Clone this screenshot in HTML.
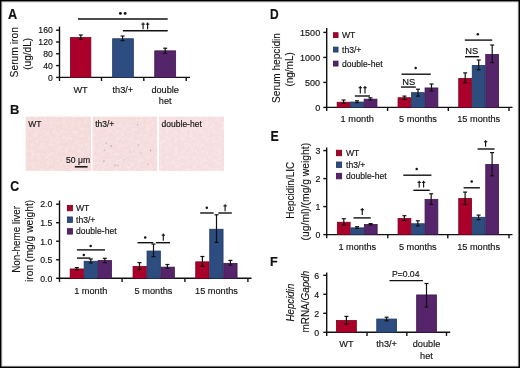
<!DOCTYPE html>
<html><head><meta charset="utf-8"><style>
html,body{margin:0;padding:0;width:520px;height:368px;overflow:hidden;background:#fff}
body{position:relative}
svg{display:block;position:absolute;left:0;top:0}
#main{filter:blur(0.3px)}
text{font-family:"Liberation Sans", sans-serif;stroke:#111;stroke-width:0.15px;paint-order:stroke}
</style></head><body>
<svg id="main" width="520" height="368" viewBox="0 0 520 368">
<rect width="520" height="368" fill="#fff"/>
<text transform="translate(8.10,18.80) scale(0.98,1.07)" font-size="13" font-weight="bold" fill="#111">A</text>
<line x1="59.50" y1="26.60" x2="59.50" y2="78.10" stroke="#111" stroke-width="1.4"/>
<line x1="56.10" y1="77.40" x2="59.50" y2="77.40" stroke="#111" stroke-width="1.4"/>
<text x="52.75" y="80.69" font-size="8.65" text-anchor="end" fill="#111">0</text>
<line x1="56.10" y1="65.60" x2="59.50" y2="65.60" stroke="#111" stroke-width="1.4"/>
<text x="52.75" y="68.89" font-size="8.65" text-anchor="end" fill="#111">40</text>
<line x1="56.10" y1="53.80" x2="59.50" y2="53.80" stroke="#111" stroke-width="1.4"/>
<text x="52.75" y="57.09" font-size="8.65" text-anchor="end" fill="#111">80</text>
<line x1="56.10" y1="42.00" x2="59.50" y2="42.00" stroke="#111" stroke-width="1.4"/>
<text x="52.75" y="45.29" font-size="8.65" text-anchor="end" fill="#111">120</text>
<line x1="56.10" y1="30.20" x2="59.50" y2="30.20" stroke="#111" stroke-width="1.4"/>
<text x="52.75" y="33.49" font-size="8.65" text-anchor="end" fill="#111">160</text>
<line x1="58.80" y1="77.40" x2="190.00" y2="77.40" stroke="#111" stroke-width="1.4"/>
<line x1="59.50" y1="77.40" x2="59.50" y2="81.00" stroke="#111" stroke-width="1.4"/>
<line x1="101.50" y1="77.40" x2="101.50" y2="81.00" stroke="#111" stroke-width="1.4"/>
<line x1="143.80" y1="77.40" x2="143.80" y2="81.00" stroke="#111" stroke-width="1.4"/>
<line x1="186.20" y1="77.40" x2="186.20" y2="81.00" stroke="#111" stroke-width="1.4"/>
<rect x="70.45" y="37.55" width="20.40" height="39.85" fill="#AB0029" stroke="#78001E" stroke-width="0.8"/>
<rect x="112.65" y="38.75" width="20.70" height="38.65" fill="#2D4C80" stroke="#1F3760" stroke-width="0.8"/>
<rect x="154.75" y="50.85" width="20.90" height="26.55" fill="#56246A" stroke="#3C1749" stroke-width="0.8"/>
<line x1="80.80" y1="35.00" x2="80.80" y2="39.40" stroke="#111" stroke-width="1.2"/>
<line x1="78.80" y1="35.00" x2="82.80" y2="35.00" stroke="#111" stroke-width="1.2"/>
<line x1="78.80" y1="39.40" x2="82.80" y2="39.40" stroke="#111" stroke-width="1.2"/>
<line x1="122.60" y1="36.00" x2="122.60" y2="40.60" stroke="#111" stroke-width="1.2"/>
<line x1="120.60" y1="36.00" x2="124.60" y2="36.00" stroke="#111" stroke-width="1.2"/>
<line x1="120.60" y1="40.60" x2="124.60" y2="40.60" stroke="#111" stroke-width="1.2"/>
<line x1="165.20" y1="48.20" x2="165.20" y2="53.30" stroke="#111" stroke-width="1.2"/>
<line x1="163.20" y1="48.20" x2="167.20" y2="48.20" stroke="#111" stroke-width="1.2"/>
<line x1="163.20" y1="53.30" x2="167.20" y2="53.30" stroke="#111" stroke-width="1.2"/>
<line x1="78.00" y1="19.00" x2="167.70" y2="19.00" stroke="#111" stroke-width="1.4"/>
<circle cx="120.40" cy="13.40" r="1.45" fill="#111"/>
<circle cx="125.10" cy="13.40" r="1.45" fill="#111"/>
<line x1="122.90" y1="30.80" x2="167.70" y2="30.80" stroke="#111" stroke-width="1.4"/>
<line x1="143.10" y1="22.50" x2="143.10" y2="29.30" stroke="#111" stroke-width="1.15"/>
<line x1="141.40" y1="24.13" x2="144.80" y2="24.13" stroke="#111" stroke-width="1.1"/>
<line x1="147.60" y1="22.50" x2="147.60" y2="29.30" stroke="#111" stroke-width="1.15"/>
<line x1="145.90" y1="24.13" x2="149.30" y2="24.13" stroke="#111" stroke-width="1.1"/>
<text x="80.60" y="93.00" font-size="9.2" text-anchor="middle" fill="#111">WT</text>
<text x="122.90" y="93.00" font-size="9.2" text-anchor="middle" fill="#111">th3/+</text>
<text x="165.20" y="93.00" font-size="9.2" text-anchor="middle" fill="#111">double</text>
<text x="165.20" y="103.70" font-size="9.2" text-anchor="middle" fill="#111">het</text>
<text transform="translate(17.80,77.40) rotate(-90) scale(1,1.13)" font-size="10.3" fill="#111" style="stroke-width:0.1px">Serum iron</text>
<text transform="translate(30.80,69.80) rotate(-90) scale(1,1.13)" font-size="10.1" fill="#111" style="stroke-width:0.1px">(ug/dL)</text>
<text transform="translate(10.00,113.70) scale(1.0,1.03)" font-size="13" font-weight="bold" fill="#111">B</text>
<defs>
<filter id="tx3" x="0" y="0" width="100%" height="100%"><feTurbulence type="fractalNoise" baseFrequency="0.32" numOctaves="3" seed="3"/><feColorMatrix type="matrix" values="0 0 0 0 1  0 0 0 0 0.97  0 0 0 0 0.97  0 0 0 -2.2 1.35"/></filter>
<filter id="tx11" x="0" y="0" width="100%" height="100%"><feTurbulence type="fractalNoise" baseFrequency="0.32" numOctaves="3" seed="11"/><feColorMatrix type="matrix" values="0 0 0 0 1  0 0 0 0 0.97  0 0 0 0 0.97  0 0 0 -2.2 1.35"/></filter>
<filter id="tx23" x="0" y="0" width="100%" height="100%"><feTurbulence type="fractalNoise" baseFrequency="0.32" numOctaves="3" seed="23"/><feColorMatrix type="matrix" values="0 0 0 0 1  0 0 0 0 0.97  0 0 0 0 0.97  0 0 0 -2.2 1.35"/></filter>
</defs>
<rect x="25.70" y="116.60" width="65.30" height="54.30" fill="#F4DAD9"/>
<rect x="25.70" y="116.6" width="65.30" height="54.3" filter="url(#tx3)" opacity="0.35"/>
<text x="28.30" y="126.50" font-size="8.5" fill="#111">WT</text>
<rect x="92.60" y="116.60" width="64.40" height="54.30" fill="#F5DBDC"/>
<rect x="92.60" y="116.6" width="64.40" height="54.3" filter="url(#tx11)" opacity="0.35"/>
<text x="95.20" y="126.50" font-size="8.5" fill="#111">th3/+</text>
<rect x="159.00" y="116.60" width="65.00" height="54.30" fill="#F6DDE1"/>
<rect x="159.00" y="116.6" width="65.00" height="54.3" filter="url(#tx23)" opacity="0.35"/>
<text x="161.60" y="126.50" font-size="8.5" fill="#111">double-het</text>
<ellipse cx="111.2" cy="146.0" rx="0.6400000000000001" ry="1.04" fill="#6a6a80" opacity="0.45"/>
<ellipse cx="106.3" cy="143.5" rx="0.48" ry="0.78" fill="#6a6a80" opacity="0.45"/>
<ellipse cx="104.4" cy="150.5" rx="0.48" ry="0.78" fill="#6a6a80" opacity="0.45"/>
<ellipse cx="103.9" cy="161.3" rx="0.6400000000000001" ry="1.04" fill="#6a6a80" opacity="0.45"/>
<ellipse cx="115.2" cy="165.2" rx="0.5599999999999999" ry="0.9099999999999999" fill="#6a6a80" opacity="0.45"/>
<ellipse cx="118.0" cy="165.6" rx="0.48" ry="0.78" fill="#6a6a80" opacity="0.45"/>
<ellipse cx="137.9" cy="124.8" rx="0.5599999999999999" ry="0.9099999999999999" fill="#6a6a80" opacity="0.45"/>
<ellipse cx="138.3" cy="145.1" rx="0.48" ry="0.78" fill="#6a6a80" opacity="0.45"/>
<ellipse cx="141.1" cy="153.0" rx="0.48" ry="0.78" fill="#6a6a80" opacity="0.45"/>
<ellipse cx="150.6" cy="150.6" rx="0.6400000000000001" ry="1.04" fill="#6a6a80" opacity="0.45"/>
<ellipse cx="147.8" cy="164.2" rx="0.48" ry="0.78" fill="#6a6a80" opacity="0.45"/>
<ellipse cx="130.0" cy="152.0" rx="0.4" ry="0.65" fill="#6a6a80" opacity="0.45"/>
<ellipse cx="124.0" cy="160.0" rx="0.4" ry="0.65" fill="#6a6a80" opacity="0.45"/>
<text x="66.00" y="163.20" font-size="8.6" fill="#111">50 μm</text>
<line x1="74.80" y1="166.80" x2="87.60" y2="166.80" stroke="#111" stroke-width="1.5"/>
<text transform="translate(10.30,190.60) scale(0.95,1.12)" font-size="13" font-weight="bold" fill="#111">C</text>
<line x1="59.50" y1="200.50" x2="59.50" y2="279.00" stroke="#111" stroke-width="1.4"/>
<line x1="56.10" y1="278.30" x2="59.50" y2="278.30" stroke="#111" stroke-width="1.4"/>
<text x="52.25" y="281.61" font-size="8.7" text-anchor="end" fill="#111">0.0</text>
<line x1="56.10" y1="259.77" x2="59.50" y2="259.77" stroke="#111" stroke-width="1.4"/>
<text x="52.25" y="263.08" font-size="8.7" text-anchor="end" fill="#111">0.5</text>
<line x1="56.10" y1="241.24" x2="59.50" y2="241.24" stroke="#111" stroke-width="1.4"/>
<text x="52.25" y="244.55" font-size="8.7" text-anchor="end" fill="#111">1.0</text>
<line x1="56.10" y1="222.71" x2="59.50" y2="222.71" stroke="#111" stroke-width="1.4"/>
<text x="52.25" y="226.02" font-size="8.7" text-anchor="end" fill="#111">1.5</text>
<line x1="56.10" y1="204.18" x2="59.50" y2="204.18" stroke="#111" stroke-width="1.4"/>
<text x="52.25" y="207.49" font-size="8.7" text-anchor="end" fill="#111">2.0</text>
<line x1="58.80" y1="278.30" x2="251.50" y2="278.30" stroke="#111" stroke-width="1.4"/>
<line x1="59.50" y1="278.30" x2="59.50" y2="281.90" stroke="#111" stroke-width="1.4"/>
<line x1="122.10" y1="278.30" x2="122.10" y2="281.90" stroke="#111" stroke-width="1.4"/>
<line x1="184.90" y1="278.30" x2="184.90" y2="281.90" stroke="#111" stroke-width="1.4"/>
<line x1="247.90" y1="278.30" x2="247.90" y2="281.90" stroke="#111" stroke-width="1.4"/>
<rect x="67.35" y="205.35" width="5.10" height="5.45" fill="#AB0029" stroke="#78001E" stroke-width="0.8"/>
<text x="76.00" y="211.00" font-size="8.6" fill="#111">WT</text>
<rect x="67.35" y="216.95" width="5.10" height="5.45" fill="#2D4C80" stroke="#1F3760" stroke-width="0.8"/>
<text x="76.00" y="222.60" font-size="8.6" fill="#111">th3/+</text>
<rect x="67.35" y="228.65" width="5.10" height="5.45" fill="#56246A" stroke="#3C1749" stroke-width="0.8"/>
<text x="76.00" y="234.30" font-size="8.6" fill="#111">double-het</text>
<rect x="70.15" y="268.95" width="13.30" height="9.35" fill="#AB0029" stroke="#78001E" stroke-width="0.8"/>
<rect x="84.15" y="261.25" width="13.30" height="17.05" fill="#2D4C80" stroke="#1F3760" stroke-width="0.8"/>
<rect x="98.15" y="260.55" width="13.30" height="17.75" fill="#56246A" stroke="#3C1749" stroke-width="0.8"/>
<line x1="76.80" y1="267.60" x2="76.80" y2="269.80" stroke="#111" stroke-width="1.2"/>
<line x1="74.80" y1="267.60" x2="78.80" y2="267.60" stroke="#111" stroke-width="1.2"/>
<line x1="74.80" y1="269.80" x2="78.80" y2="269.80" stroke="#111" stroke-width="1.2"/>
<line x1="90.80" y1="259.00" x2="90.80" y2="263.00" stroke="#111" stroke-width="1.2"/>
<line x1="88.80" y1="259.00" x2="92.80" y2="259.00" stroke="#111" stroke-width="1.2"/>
<line x1="88.80" y1="263.00" x2="92.80" y2="263.00" stroke="#111" stroke-width="1.2"/>
<line x1="104.80" y1="258.30" x2="104.80" y2="262.60" stroke="#111" stroke-width="1.2"/>
<line x1="102.80" y1="258.30" x2="106.80" y2="258.30" stroke="#111" stroke-width="1.2"/>
<line x1="102.80" y1="262.60" x2="106.80" y2="262.60" stroke="#111" stroke-width="1.2"/>
<rect x="133.05" y="266.35" width="13.30" height="11.95" fill="#AB0029" stroke="#78001E" stroke-width="0.8"/>
<rect x="147.05" y="251.05" width="13.30" height="27.25" fill="#2D4C80" stroke="#1F3760" stroke-width="0.8"/>
<rect x="161.05" y="267.15" width="13.30" height="11.15" fill="#56246A" stroke="#3C1749" stroke-width="0.8"/>
<line x1="139.50" y1="262.60" x2="139.50" y2="269.50" stroke="#111" stroke-width="1.2"/>
<line x1="137.50" y1="262.60" x2="141.50" y2="262.60" stroke="#111" stroke-width="1.2"/>
<line x1="137.50" y1="269.50" x2="141.50" y2="269.50" stroke="#111" stroke-width="1.2"/>
<line x1="153.50" y1="244.10" x2="153.50" y2="256.60" stroke="#111" stroke-width="1.2"/>
<line x1="151.50" y1="244.10" x2="155.50" y2="244.10" stroke="#111" stroke-width="1.2"/>
<line x1="151.50" y1="256.60" x2="155.50" y2="256.60" stroke="#111" stroke-width="1.2"/>
<line x1="167.40" y1="264.50" x2="167.40" y2="268.30" stroke="#111" stroke-width="1.2"/>
<line x1="165.40" y1="264.50" x2="169.40" y2="264.50" stroke="#111" stroke-width="1.2"/>
<line x1="165.40" y1="268.30" x2="169.40" y2="268.30" stroke="#111" stroke-width="1.2"/>
<rect x="195.75" y="261.85" width="13.30" height="16.45" fill="#AB0029" stroke="#78001E" stroke-width="0.8"/>
<rect x="209.75" y="229.25" width="13.30" height="49.05" fill="#2D4C80" stroke="#1F3760" stroke-width="0.8"/>
<rect x="223.75" y="263.35" width="13.30" height="14.95" fill="#56246A" stroke="#3C1749" stroke-width="0.8"/>
<line x1="202.40" y1="256.50" x2="202.40" y2="266.30" stroke="#111" stroke-width="1.2"/>
<line x1="200.40" y1="256.50" x2="204.40" y2="256.50" stroke="#111" stroke-width="1.2"/>
<line x1="200.40" y1="266.30" x2="204.40" y2="266.30" stroke="#111" stroke-width="1.2"/>
<line x1="216.50" y1="214.80" x2="216.50" y2="242.40" stroke="#111" stroke-width="1.2"/>
<line x1="214.50" y1="214.80" x2="218.50" y2="214.80" stroke="#111" stroke-width="1.2"/>
<line x1="214.50" y1="242.40" x2="218.50" y2="242.40" stroke="#111" stroke-width="1.2"/>
<line x1="230.40" y1="260.40" x2="230.40" y2="265.20" stroke="#111" stroke-width="1.2"/>
<line x1="228.40" y1="260.40" x2="232.40" y2="260.40" stroke="#111" stroke-width="1.2"/>
<line x1="228.40" y1="265.20" x2="232.40" y2="265.20" stroke="#111" stroke-width="1.2"/>
<line x1="76.90" y1="249.90" x2="105.00" y2="249.90" stroke="#111" stroke-width="1.4"/>
<circle cx="90.70" cy="246.00" r="1.25" fill="#111"/>
<line x1="77.00" y1="258.10" x2="90.30" y2="258.10" stroke="#111" stroke-width="1.4"/>
<circle cx="83.80" cy="254.90" r="1.25" fill="#111"/>
<line x1="137.50" y1="242.70" x2="153.30" y2="242.70" stroke="#111" stroke-width="1.4"/>
<circle cx="145.20" cy="237.50" r="1.25" fill="#111"/>
<line x1="155.90" y1="242.70" x2="170.00" y2="242.70" stroke="#111" stroke-width="1.4"/>
<line x1="163.30" y1="233.40" x2="163.30" y2="240.70" stroke="#111" stroke-width="1.15"/>
<line x1="161.60" y1="235.15" x2="165.00" y2="235.15" stroke="#111" stroke-width="1.1"/>
<line x1="200.20" y1="213.00" x2="213.70" y2="213.00" stroke="#111" stroke-width="1.4"/>
<circle cx="206.80" cy="207.70" r="1.25" fill="#111"/>
<line x1="218.30" y1="213.00" x2="231.80" y2="213.00" stroke="#111" stroke-width="1.4"/>
<line x1="225.10" y1="204.20" x2="225.10" y2="211.20" stroke="#111" stroke-width="1.15"/>
<line x1="223.40" y1="205.88" x2="226.80" y2="205.88" stroke="#111" stroke-width="1.1"/>
<text x="90.80" y="293.70" font-size="9.2" text-anchor="middle" fill="#111">1 month</text>
<text x="153.50" y="293.70" font-size="9.2" text-anchor="middle" fill="#111">5 months</text>
<text x="216.50" y="293.70" font-size="9.2" text-anchor="middle" fill="#111">15 months</text>
<text transform="translate(19.80,272.80) rotate(-90) scale(1,1.13)" font-size="9.87" fill="#111" style="stroke-width:0.1px">Non-heme liver</text>
<text transform="translate(33.00,282.00) rotate(-90) scale(1,1.13)" font-size="10.3" fill="#111" style="stroke-width:0.1px">iron (mg/g weight)</text>
<text transform="translate(270.00,18.90) scale(0.92,1.075)" font-size="13" font-weight="bold" fill="#111">D</text>
<line x1="326.70" y1="28.00" x2="326.70" y2="108.10" stroke="#111" stroke-width="1.4"/>
<line x1="323.30" y1="107.40" x2="326.70" y2="107.40" stroke="#111" stroke-width="1.4"/>
<text x="320.15" y="110.82" font-size="9.0" text-anchor="end" fill="#111">0</text>
<line x1="323.30" y1="82.40" x2="326.70" y2="82.40" stroke="#111" stroke-width="1.4"/>
<text x="320.15" y="85.82" font-size="9.0" text-anchor="end" fill="#111">500</text>
<line x1="323.30" y1="57.40" x2="326.70" y2="57.40" stroke="#111" stroke-width="1.4"/>
<text x="320.15" y="60.82" font-size="9.0" text-anchor="end" fill="#111">1000</text>
<line x1="323.30" y1="32.40" x2="326.70" y2="32.40" stroke="#111" stroke-width="1.4"/>
<text x="320.15" y="35.82" font-size="9.0" text-anchor="end" fill="#111">1500</text>
<line x1="326.00" y1="107.40" x2="512.50" y2="107.40" stroke="#111" stroke-width="1.4"/>
<line x1="326.70" y1="107.40" x2="326.70" y2="111.00" stroke="#111" stroke-width="1.4"/>
<line x1="387.60" y1="107.40" x2="387.60" y2="111.00" stroke="#111" stroke-width="1.4"/>
<line x1="448.30" y1="107.40" x2="448.30" y2="111.00" stroke="#111" stroke-width="1.4"/>
<line x1="509.00" y1="107.40" x2="509.00" y2="111.00" stroke="#111" stroke-width="1.4"/>
<rect x="333.45" y="32.70" width="4.60" height="4.95" fill="#AB0029" stroke="#78001E" stroke-width="0.8"/>
<text x="342.00" y="38.10" font-size="8.6" fill="#111">WT</text>
<rect x="333.45" y="47.10" width="4.60" height="4.95" fill="#2D4C80" stroke="#1F3760" stroke-width="0.8"/>
<text x="342.00" y="52.50" font-size="8.6" fill="#111">th3/+</text>
<rect x="333.45" y="61.10" width="4.60" height="4.95" fill="#56246A" stroke="#3C1749" stroke-width="0.8"/>
<text x="342.00" y="66.50" font-size="8.6" fill="#111">double-het</text>
<rect x="337.15" y="102.25" width="12.80" height="5.15" fill="#AB0029" stroke="#78001E" stroke-width="0.8"/>
<rect x="350.65" y="102.05" width="12.80" height="5.35" fill="#2D4C80" stroke="#1F3760" stroke-width="0.8"/>
<rect x="364.15" y="99.15" width="12.80" height="8.25" fill="#56246A" stroke="#3C1749" stroke-width="0.8"/>
<line x1="343.60" y1="100.00" x2="343.60" y2="103.20" stroke="#111" stroke-width="1.2"/>
<line x1="341.60" y1="100.00" x2="345.60" y2="100.00" stroke="#111" stroke-width="1.2"/>
<line x1="341.60" y1="103.20" x2="345.60" y2="103.20" stroke="#111" stroke-width="1.2"/>
<line x1="357.00" y1="100.80" x2="357.00" y2="102.60" stroke="#111" stroke-width="1.2"/>
<line x1="355.00" y1="100.80" x2="359.00" y2="100.80" stroke="#111" stroke-width="1.2"/>
<line x1="355.00" y1="102.60" x2="359.00" y2="102.60" stroke="#111" stroke-width="1.2"/>
<line x1="370.40" y1="97.80" x2="370.40" y2="99.90" stroke="#111" stroke-width="1.2"/>
<line x1="368.40" y1="97.80" x2="372.40" y2="97.80" stroke="#111" stroke-width="1.2"/>
<line x1="368.40" y1="99.90" x2="372.40" y2="99.90" stroke="#111" stroke-width="1.2"/>
<rect x="398.05" y="97.75" width="12.80" height="9.65" fill="#AB0029" stroke="#78001E" stroke-width="0.8"/>
<rect x="411.55" y="92.65" width="12.80" height="14.75" fill="#2D4C80" stroke="#1F3760" stroke-width="0.8"/>
<rect x="425.05" y="87.95" width="12.80" height="19.45" fill="#56246A" stroke="#3C1749" stroke-width="0.8"/>
<line x1="404.50" y1="96.10" x2="404.50" y2="99.50" stroke="#111" stroke-width="1.2"/>
<line x1="402.50" y1="96.10" x2="406.50" y2="96.10" stroke="#111" stroke-width="1.2"/>
<line x1="402.50" y1="99.50" x2="406.50" y2="99.50" stroke="#111" stroke-width="1.2"/>
<line x1="418.00" y1="89.20" x2="418.00" y2="96.10" stroke="#111" stroke-width="1.2"/>
<line x1="416.00" y1="89.20" x2="420.00" y2="89.20" stroke="#111" stroke-width="1.2"/>
<line x1="416.00" y1="96.10" x2="420.00" y2="96.10" stroke="#111" stroke-width="1.2"/>
<line x1="431.50" y1="84.00" x2="431.50" y2="91.00" stroke="#111" stroke-width="1.2"/>
<line x1="429.50" y1="84.00" x2="433.50" y2="84.00" stroke="#111" stroke-width="1.2"/>
<line x1="429.50" y1="91.00" x2="433.50" y2="91.00" stroke="#111" stroke-width="1.2"/>
<rect x="458.75" y="78.45" width="12.80" height="28.95" fill="#AB0029" stroke="#78001E" stroke-width="0.8"/>
<rect x="472.25" y="65.55" width="12.80" height="41.85" fill="#2D4C80" stroke="#1F3760" stroke-width="0.8"/>
<rect x="485.75" y="54.45" width="12.80" height="52.95" fill="#56246A" stroke="#3C1749" stroke-width="0.8"/>
<line x1="465.20" y1="72.90" x2="465.20" y2="82.70" stroke="#111" stroke-width="1.2"/>
<line x1="463.20" y1="72.90" x2="467.20" y2="72.90" stroke="#111" stroke-width="1.2"/>
<line x1="463.20" y1="82.70" x2="467.20" y2="82.70" stroke="#111" stroke-width="1.2"/>
<line x1="478.70" y1="60.00" x2="478.70" y2="69.80" stroke="#111" stroke-width="1.2"/>
<line x1="476.70" y1="60.00" x2="480.70" y2="60.00" stroke="#111" stroke-width="1.2"/>
<line x1="476.70" y1="69.80" x2="480.70" y2="69.80" stroke="#111" stroke-width="1.2"/>
<line x1="492.20" y1="45.00" x2="492.20" y2="62.60" stroke="#111" stroke-width="1.2"/>
<line x1="490.20" y1="45.00" x2="494.20" y2="45.00" stroke="#111" stroke-width="1.2"/>
<line x1="490.20" y1="62.60" x2="494.20" y2="62.60" stroke="#111" stroke-width="1.2"/>
<line x1="354.80" y1="96.00" x2="370.00" y2="96.00" stroke="#111" stroke-width="1.4"/>
<line x1="360.30" y1="85.90" x2="360.30" y2="93.50" stroke="#111" stroke-width="1.15"/>
<line x1="358.60" y1="87.72" x2="362.00" y2="87.72" stroke="#111" stroke-width="1.1"/>
<line x1="365.00" y1="85.90" x2="365.00" y2="93.50" stroke="#111" stroke-width="1.15"/>
<line x1="363.30" y1="87.72" x2="366.70" y2="87.72" stroke="#111" stroke-width="1.1"/>
<line x1="401.50" y1="74.20" x2="430.80" y2="74.20" stroke="#111" stroke-width="1.4"/>
<circle cx="415.70" cy="67.90" r="1.25" fill="#111"/>
<line x1="401.00" y1="87.05" x2="415.80" y2="87.05" stroke="#111" stroke-width="1.4"/>
<text x="408.75" y="84.60" font-size="9.3" text-anchor="middle" fill="#111">NS</text>
<line x1="464.80" y1="40.10" x2="492.20" y2="40.10" stroke="#111" stroke-width="1.4"/>
<circle cx="477.80" cy="34.30" r="1.25" fill="#111"/>
<line x1="465.00" y1="56.70" x2="479.10" y2="56.70" stroke="#111" stroke-width="1.4"/>
<text x="471.65" y="54.40" font-size="9.3" text-anchor="middle" fill="#111">NS</text>
<text x="357.20" y="122.20" font-size="9.2" text-anchor="middle" fill="#111">1 month</text>
<text x="418.00" y="122.20" font-size="9.2" text-anchor="middle" fill="#111">5 months</text>
<text x="478.70" y="122.20" font-size="9.2" text-anchor="middle" fill="#111">15 months</text>
<text transform="translate(279.70,102.90) rotate(-90) scale(1,1.13)" font-size="10.06" fill="#111" style="stroke-width:0.1px">Serum hepcidin</text>
<text transform="translate(292.70,86.60) rotate(-90) scale(1,1.13)" font-size="10.0" fill="#111" style="stroke-width:0.1px">(ng/mL)</text>
<text transform="translate(270.50,141.10) scale(0.95,1.18)" font-size="13" font-weight="bold" fill="#111">E</text>
<line x1="326.70" y1="147.40" x2="326.70" y2="235.30" stroke="#111" stroke-width="1.4"/>
<line x1="323.30" y1="234.60" x2="326.70" y2="234.60" stroke="#111" stroke-width="1.4"/>
<text x="320.35" y="237.94" font-size="8.8" text-anchor="end" fill="#111">0</text>
<line x1="323.30" y1="206.60" x2="326.70" y2="206.60" stroke="#111" stroke-width="1.4"/>
<text x="320.35" y="209.94" font-size="8.8" text-anchor="end" fill="#111">1</text>
<line x1="323.30" y1="178.60" x2="326.70" y2="178.60" stroke="#111" stroke-width="1.4"/>
<text x="320.35" y="181.94" font-size="8.8" text-anchor="end" fill="#111">2</text>
<line x1="323.30" y1="150.60" x2="326.70" y2="150.60" stroke="#111" stroke-width="1.4"/>
<text x="320.35" y="153.94" font-size="8.8" text-anchor="end" fill="#111">3</text>
<line x1="326.00" y1="234.60" x2="512.50" y2="234.60" stroke="#111" stroke-width="1.4"/>
<line x1="326.70" y1="234.60" x2="326.70" y2="238.20" stroke="#111" stroke-width="1.4"/>
<line x1="387.80" y1="234.60" x2="387.80" y2="238.20" stroke="#111" stroke-width="1.4"/>
<line x1="447.80" y1="234.60" x2="447.80" y2="238.20" stroke="#111" stroke-width="1.4"/>
<line x1="509.00" y1="234.60" x2="509.00" y2="238.20" stroke="#111" stroke-width="1.4"/>
<rect x="336.45" y="150.20" width="5.20" height="5.55" fill="#AB0029" stroke="#78001E" stroke-width="0.8"/>
<text x="346.00" y="155.90" font-size="8.6" fill="#111">WT</text>
<rect x="336.45" y="162.00" width="5.20" height="5.55" fill="#2D4C80" stroke="#1F3760" stroke-width="0.8"/>
<text x="346.00" y="167.70" font-size="8.6" fill="#111">th3/+</text>
<rect x="336.45" y="173.30" width="5.20" height="5.55" fill="#56246A" stroke="#3C1749" stroke-width="0.8"/>
<text x="346.00" y="179.00" font-size="8.6" fill="#111">double-het</text>
<rect x="337.35" y="222.25" width="12.80" height="12.35" fill="#AB0029" stroke="#78001E" stroke-width="0.8"/>
<rect x="350.85" y="227.85" width="12.80" height="6.75" fill="#2D4C80" stroke="#1F3760" stroke-width="0.8"/>
<rect x="364.35" y="224.45" width="12.80" height="10.15" fill="#56246A" stroke="#3C1749" stroke-width="0.8"/>
<line x1="343.80" y1="218.70" x2="343.80" y2="225.00" stroke="#111" stroke-width="1.2"/>
<line x1="341.80" y1="218.70" x2="345.80" y2="218.70" stroke="#111" stroke-width="1.2"/>
<line x1="341.80" y1="225.00" x2="345.80" y2="225.00" stroke="#111" stroke-width="1.2"/>
<line x1="357.10" y1="226.70" x2="357.10" y2="228.40" stroke="#111" stroke-width="1.2"/>
<line x1="355.10" y1="226.70" x2="359.10" y2="226.70" stroke="#111" stroke-width="1.2"/>
<line x1="355.10" y1="228.40" x2="359.10" y2="228.40" stroke="#111" stroke-width="1.2"/>
<line x1="370.60" y1="223.60" x2="370.60" y2="225.00" stroke="#111" stroke-width="1.2"/>
<line x1="368.60" y1="223.60" x2="372.60" y2="223.60" stroke="#111" stroke-width="1.2"/>
<line x1="368.60" y1="225.00" x2="372.60" y2="225.00" stroke="#111" stroke-width="1.2"/>
<rect x="398.05" y="218.55" width="12.80" height="16.05" fill="#AB0029" stroke="#78001E" stroke-width="0.8"/>
<rect x="411.55" y="223.75" width="12.80" height="10.85" fill="#2D4C80" stroke="#1F3760" stroke-width="0.8"/>
<rect x="425.05" y="199.35" width="12.80" height="35.25" fill="#56246A" stroke="#3C1749" stroke-width="0.8"/>
<line x1="404.40" y1="215.70" x2="404.40" y2="220.60" stroke="#111" stroke-width="1.2"/>
<line x1="402.40" y1="215.70" x2="406.40" y2="215.70" stroke="#111" stroke-width="1.2"/>
<line x1="402.40" y1="220.60" x2="406.40" y2="220.60" stroke="#111" stroke-width="1.2"/>
<line x1="417.80" y1="220.80" x2="417.80" y2="225.90" stroke="#111" stroke-width="1.2"/>
<line x1="415.80" y1="220.80" x2="419.80" y2="220.80" stroke="#111" stroke-width="1.2"/>
<line x1="415.80" y1="225.90" x2="419.80" y2="225.90" stroke="#111" stroke-width="1.2"/>
<line x1="431.20" y1="193.80" x2="431.20" y2="204.40" stroke="#111" stroke-width="1.2"/>
<line x1="429.20" y1="193.80" x2="433.20" y2="193.80" stroke="#111" stroke-width="1.2"/>
<line x1="429.20" y1="204.40" x2="433.20" y2="204.40" stroke="#111" stroke-width="1.2"/>
<rect x="458.75" y="198.45" width="12.80" height="36.15" fill="#AB0029" stroke="#78001E" stroke-width="0.8"/>
<rect x="472.25" y="217.25" width="12.80" height="17.35" fill="#2D4C80" stroke="#1F3760" stroke-width="0.8"/>
<rect x="485.75" y="164.45" width="12.80" height="70.15" fill="#56246A" stroke="#3C1749" stroke-width="0.8"/>
<line x1="465.10" y1="192.10" x2="465.10" y2="204.50" stroke="#111" stroke-width="1.2"/>
<line x1="463.10" y1="192.10" x2="467.10" y2="192.10" stroke="#111" stroke-width="1.2"/>
<line x1="463.10" y1="204.50" x2="467.10" y2="204.50" stroke="#111" stroke-width="1.2"/>
<line x1="478.60" y1="215.10" x2="478.60" y2="219.70" stroke="#111" stroke-width="1.2"/>
<line x1="476.60" y1="215.10" x2="480.60" y2="215.10" stroke="#111" stroke-width="1.2"/>
<line x1="476.60" y1="219.70" x2="480.60" y2="219.70" stroke="#111" stroke-width="1.2"/>
<line x1="492.10" y1="152.60" x2="492.10" y2="175.80" stroke="#111" stroke-width="1.2"/>
<line x1="490.10" y1="152.60" x2="494.10" y2="152.60" stroke="#111" stroke-width="1.2"/>
<line x1="490.10" y1="175.80" x2="494.10" y2="175.80" stroke="#111" stroke-width="1.2"/>
<line x1="353.50" y1="217.90" x2="370.75" y2="217.90" stroke="#111" stroke-width="1.4"/>
<line x1="362.25" y1="208.00" x2="362.25" y2="215.00" stroke="#111" stroke-width="1.15"/>
<line x1="360.55" y1="209.68" x2="363.95" y2="209.68" stroke="#111" stroke-width="1.1"/>
<line x1="403.30" y1="175.20" x2="431.40" y2="175.20" stroke="#111" stroke-width="1.4"/>
<circle cx="416.70" cy="169.10" r="1.25" fill="#111"/>
<line x1="413.40" y1="190.30" x2="429.70" y2="190.30" stroke="#111" stroke-width="1.4"/>
<line x1="419.20" y1="180.70" x2="419.20" y2="187.60" stroke="#111" stroke-width="1.15"/>
<line x1="417.50" y1="182.36" x2="420.90" y2="182.36" stroke="#111" stroke-width="1.1"/>
<line x1="423.60" y1="180.70" x2="423.60" y2="187.60" stroke="#111" stroke-width="1.15"/>
<line x1="421.90" y1="182.36" x2="425.30" y2="182.36" stroke="#111" stroke-width="1.1"/>
<line x1="463.60" y1="187.80" x2="479.90" y2="187.80" stroke="#111" stroke-width="1.4"/>
<circle cx="471.70" cy="181.60" r="1.25" fill="#111"/>
<line x1="477.60" y1="149.00" x2="494.60" y2="149.00" stroke="#111" stroke-width="1.4"/>
<line x1="485.60" y1="140.20" x2="485.60" y2="146.70" stroke="#111" stroke-width="1.15"/>
<line x1="483.90" y1="141.76" x2="487.30" y2="141.76" stroke="#111" stroke-width="1.1"/>
<text x="357.30" y="249.60" font-size="9.2" text-anchor="middle" fill="#111">1 months</text>
<text x="417.80" y="249.60" font-size="9.2" text-anchor="middle" fill="#111">5 months</text>
<text x="478.60" y="249.60" font-size="9.2" text-anchor="middle" fill="#111">15 months</text>
<text transform="translate(294.40,218.80) rotate(-90) scale(1,1.13)" font-size="9.95" fill="#111" style="stroke-width:0.1px">Hepcidin/LIC</text>
<text transform="translate(308.60,240.40) rotate(-90) scale(1,1.13)" font-size="10.34" fill="#111" style="stroke-width:0.1px">(ug/ml)/(mg/g weight)</text>
<text transform="translate(269.90,265.70) scale(0.97,1.05)" font-size="13" font-weight="bold" fill="#111">F</text>
<line x1="326.70" y1="272.50" x2="326.70" y2="333.00" stroke="#111" stroke-width="1.4"/>
<line x1="323.30" y1="332.30" x2="326.70" y2="332.30" stroke="#111" stroke-width="1.4"/>
<text x="319.25" y="335.64" font-size="8.8" text-anchor="end" fill="#111">0</text>
<line x1="323.30" y1="313.30" x2="326.70" y2="313.30" stroke="#111" stroke-width="1.4"/>
<text x="319.25" y="316.64" font-size="8.8" text-anchor="end" fill="#111">2</text>
<line x1="323.30" y1="294.30" x2="326.70" y2="294.30" stroke="#111" stroke-width="1.4"/>
<text x="319.25" y="297.64" font-size="8.8" text-anchor="end" fill="#111">4</text>
<line x1="323.30" y1="275.30" x2="326.70" y2="275.30" stroke="#111" stroke-width="1.4"/>
<text x="319.25" y="278.64" font-size="8.8" text-anchor="end" fill="#111">6</text>
<line x1="326.00" y1="332.30" x2="450.20" y2="332.30" stroke="#111" stroke-width="1.4"/>
<line x1="326.70" y1="332.30" x2="326.70" y2="335.90" stroke="#111" stroke-width="1.4"/>
<line x1="367.00" y1="332.30" x2="367.00" y2="335.90" stroke="#111" stroke-width="1.4"/>
<line x1="406.80" y1="332.30" x2="406.80" y2="335.90" stroke="#111" stroke-width="1.4"/>
<line x1="446.50" y1="332.30" x2="446.50" y2="335.90" stroke="#111" stroke-width="1.4"/>
<rect x="336.45" y="320.55" width="19.90" height="11.75" fill="#AB0029" stroke="#78001E" stroke-width="0.8"/>
<rect x="376.75" y="319.05" width="19.80" height="13.25" fill="#2D4C80" stroke="#1F3760" stroke-width="0.8"/>
<rect x="416.65" y="294.95" width="19.80" height="37.35" fill="#56246A" stroke="#3C1749" stroke-width="0.8"/>
<line x1="346.40" y1="316.40" x2="346.40" y2="324.00" stroke="#111" stroke-width="1.2"/>
<line x1="344.40" y1="316.40" x2="348.40" y2="316.40" stroke="#111" stroke-width="1.2"/>
<line x1="344.40" y1="324.00" x2="348.40" y2="324.00" stroke="#111" stroke-width="1.2"/>
<line x1="386.60" y1="317.20" x2="386.60" y2="320.80" stroke="#111" stroke-width="1.2"/>
<line x1="384.60" y1="317.20" x2="388.60" y2="317.20" stroke="#111" stroke-width="1.2"/>
<line x1="384.60" y1="320.80" x2="388.60" y2="320.80" stroke="#111" stroke-width="1.2"/>
<line x1="426.50" y1="283.50" x2="426.50" y2="307.00" stroke="#111" stroke-width="1.2"/>
<line x1="424.50" y1="283.50" x2="428.50" y2="283.50" stroke="#111" stroke-width="1.2"/>
<line x1="424.50" y1="307.00" x2="428.50" y2="307.00" stroke="#111" stroke-width="1.2"/>
<line x1="389.50" y1="280.60" x2="422.90" y2="280.60" stroke="#111" stroke-width="1.4"/>
<text x="405.70" y="277.20" font-size="8.6" text-anchor="middle" fill="#111">P=0.04</text>
<text x="346.40" y="347.30" font-size="9.2" text-anchor="middle" fill="#111">WT</text>
<text x="386.60" y="347.30" font-size="9.2" text-anchor="middle" fill="#111">th3/+</text>
<text x="426.50" y="347.30" font-size="9.2" text-anchor="middle" fill="#111">double</text>
<text x="426.50" y="358.80" font-size="9.2" text-anchor="middle" fill="#111">het</text>
<text transform="translate(294.40,321.40) rotate(-90) scale(1,1.13)" font-size="9.7" font-style="italic" fill="#111" style="stroke-width:0.1px">Hepcidin</text>
<text transform="translate(308.50,332.40) rotate(-90) scale(1,1.13)" font-size="9.9" fill="#111" style="stroke-width:0.1px">mRNA/<tspan font-style="italic">Gapdh</tspan></text>
</svg>
<svg width="520" height="368" viewBox="0 0 520 368">
<rect x="0.00" y="0.00" width="520.00" height="1.00" fill="#000"/>
<rect x="1.00" y="1.00" width="518.00" height="1.00" fill="rgba(0,0,0,0.5)"/>
<rect x="2.00" y="2.00" width="516.00" height="1.00" fill="rgba(0,0,0,0.08)"/>
<rect x="0.00" y="0.00" width="1.00" height="368.00" fill="#000"/>
<rect x="1.00" y="1.00" width="1.00" height="366.00" fill="rgba(0,0,0,0.5)"/>
<rect x="2.00" y="2.00" width="1.00" height="364.00" fill="rgba(0,0,0,0.08)"/>
<rect x="519.00" y="0.00" width="1.00" height="368.00" fill="#000"/>
<rect x="518.00" y="1.00" width="1.00" height="366.00" fill="rgba(0,0,0,0.55)"/>
<rect x="517.00" y="2.00" width="1.00" height="364.00" fill="rgba(0,0,0,0.06)"/>
<rect x="0.00" y="367.00" width="520.00" height="1.00" fill="#000"/>
<rect x="1.00" y="366.00" width="518.00" height="1.00" fill="rgba(0,0,0,0.55)"/>
<rect x="2.00" y="365.00" width="516.00" height="1.00" fill="rgba(0,0,0,0.06)"/>
</svg>
</body></html>
